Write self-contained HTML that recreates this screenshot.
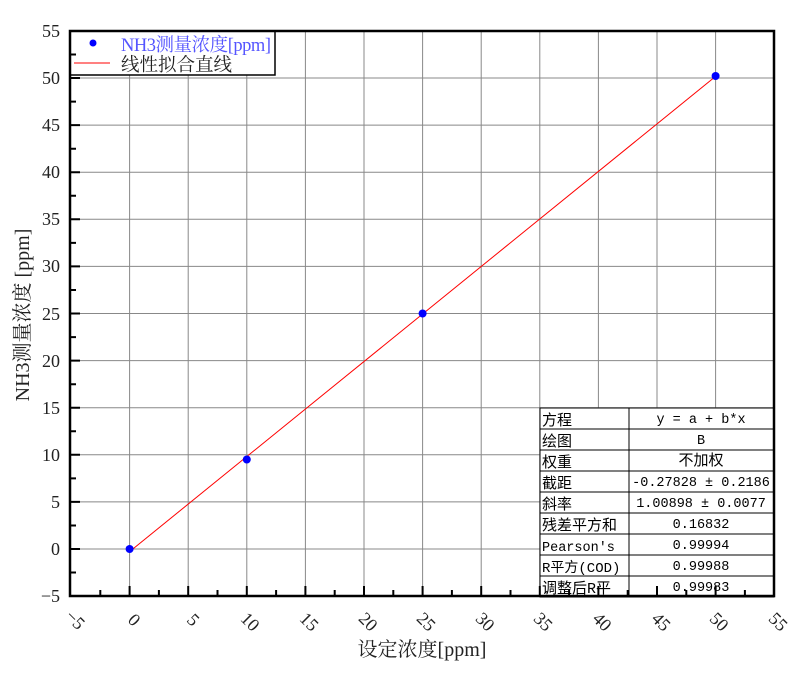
<!DOCTYPE html>
<html><head><meta charset="utf-8"><style>body{margin:0;background:#fff}svg{display:block}</style></head><body>
<svg width="808" height="681" xmlns="http://www.w3.org/2000/svg" font-family="'Liberation Serif','Noto Serif CJK SC',serif">
<rect width="808" height="681" fill="#fff"/>
<g stroke="#888" stroke-width="1">
<line x1="129.6" y1="31" x2="129.6" y2="596"/><line x1="188.2" y1="31" x2="188.2" y2="596"/><line x1="246.8" y1="31" x2="246.8" y2="596"/><line x1="305.4" y1="31" x2="305.4" y2="596"/><line x1="364" y1="31" x2="364" y2="596"/><line x1="422.6" y1="31" x2="422.6" y2="596"/><line x1="481.2" y1="31" x2="481.2" y2="596"/><line x1="539.8" y1="31" x2="539.8" y2="596"/><line x1="598.4" y1="31" x2="598.4" y2="596"/><line x1="657" y1="31" x2="657" y2="596"/><line x1="715.6" y1="31" x2="715.6" y2="596"/>
<line x1="70" y1="549" x2="774" y2="549"/><line x1="70" y1="501.9" x2="774" y2="501.9"/><line x1="70" y1="454.8" x2="774" y2="454.8"/><line x1="70" y1="407.7" x2="774" y2="407.7"/><line x1="70" y1="360.6" x2="774" y2="360.6"/><line x1="70" y1="313.5" x2="774" y2="313.5"/><line x1="70" y1="266.4" x2="774" y2="266.4"/><line x1="70" y1="219.3" x2="774" y2="219.3"/><line x1="70" y1="172.2" x2="774" y2="172.2"/><line x1="70" y1="125.1" x2="774" y2="125.1"/><line x1="70" y1="78" x2="774" y2="78"/>
</g>
<line x1="129.6" y1="551.6" x2="715.6" y2="76.4" stroke="#f00" stroke-width="1"/>
<g fill="#00f"><circle cx="129.6" cy="549" r="4"/><circle cx="246.8" cy="459.5" r="4"/><circle cx="422.6" cy="313.5" r="4"/><circle cx="715.6" cy="76" r="4"/></g>
<!-- table -->
<rect x="540" y="408" width="234" height="189" fill="#fff" stroke="#000"/>
<g stroke="#000" stroke-width="1">
<line x1="629" y1="408" x2="629" y2="597"/>
<line x1="540" y1="429" x2="774" y2="429"/><line x1="540" y1="450" x2="774" y2="450"/><line x1="540" y1="471" x2="774" y2="471"/><line x1="540" y1="492" x2="774" y2="492"/><line x1="540" y1="513" x2="774" y2="513"/><line x1="540" y1="534" x2="774" y2="534"/><line x1="540" y1="555" x2="774" y2="555"/><line x1="540" y1="576" x2="774" y2="576"/>
</g>
<g font-family="'Liberation Mono','Noto Sans CJK SC',monospace" font-size="15">
<text x="542" y="425">方程</text><text x="542" y="446">绘图</text><text x="542" y="467">权重</text><text x="542" y="488">截距</text><text x="542" y="509">斜率</text><text x="542" y="530">残差平方和</text><text x="542" y="551" font-size="13.5">Pearson's</text><text x="542" y="572" font-size="14">R平方(COD)</text><text x="542" y="593">调整后R平</text>
<g text-anchor="middle" font-size="13.5"><text x="701" y="423">y = a + b*x</text><text x="701" y="444">B</text><text x="701" y="465" font-size="15">不加权</text><text x="701" y="486">-0.27828 ± 0.2186</text><text x="701" y="507">1.00898 ± 0.0077</text><text x="701" y="528">0.16832</text><text x="701" y="549">0.99994</text><text x="701" y="570">0.99988</text><text x="701" y="591">0.99983</text></g>
</g>
<!-- legend -->
<rect x="70" y="31" width="205" height="44" fill="#fff" stroke="#000" stroke-width="1.5"/>
<circle cx="93" cy="43" r="3.5" fill="#00f"/>
<line x1="74" y1="63" x2="110" y2="63" stroke="#f00"/>
<text x="121" y="51" font-size="18.5" fill="#55f" textLength="150">NH3测量浓度[ppm]</text>
<text x="121" y="71" font-size="18.5" fill="#222">线性拟合直线</text>
<!-- frame -->
<rect x="70" y="31" width="704" height="565" fill="none" stroke="#000" stroke-width="2.5"/>
<g stroke="#000" stroke-width="2">
<path d="M129.6 596v-10M188.2 596v-10M246.8 596v-10M305.4 596v-10M364 596v-10M422.6 596v-10M481.2 596v-10M539.8 596v-10M598.4 596v-10M657 596v-10M715.6 596v-10"/>
<path d="M100.3 596v-6M158.9 596v-6M217.5 596v-6M276.1 596v-6M334.7 596v-6M393.3 596v-6M451.9 596v-6M510.5 596v-6M569.1 596v-6M627.7 596v-6M686.3 596v-6M744.9 596v-6"/>
<path d="M70 549h10M70 501.9h10M70 454.8h10M70 407.7h10M70 360.6h10M70 313.5h10M70 266.4h10M70 219.3h10M70 172.2h10M70 125.1h10M70 78h10"/>
<path d="M70 572.5h6M70 525.5h6M70 478.4h6M70 431.3h6M70 384.2h6M70 337.1h6M70 290h6M70 242.9h6M70 195.8h6M70 148.7h6M70 101.6h6M70 54.5h6"/>
</g>
<g font-size="18" fill="#222" text-anchor="end">
<text x="60" y="602">−5</text><text x="60" y="555">0</text><text x="60" y="508">5</text><text x="60" y="461">10</text><text x="60" y="414">15</text><text x="60" y="367">20</text><text x="60" y="320">25</text><text x="60" y="272">30</text><text x="60" y="225">35</text><text x="60" y="178">40</text><text x="60" y="131">45</text><text x="60" y="84">50</text><text x="60" y="37">55</text>
</g>
<g font-size="18" fill="#222" text-anchor="middle">
<text transform="translate(71,624) rotate(45)">−5</text>
<text transform="translate(130,624) rotate(45)">0</text>
<text transform="translate(189,624) rotate(45)">5</text>
<text transform="translate(246,626) rotate(45)">10</text>
<text transform="translate(305,626) rotate(45)">15</text>
<text transform="translate(364,626) rotate(45)">20</text>
<text transform="translate(422,626) rotate(45)">25</text>
<text transform="translate(481,626) rotate(45)">30</text>
<text transform="translate(539,626) rotate(45)">35</text>
<text transform="translate(598,626) rotate(45)">40</text>
<text transform="translate(657,626) rotate(45)">45</text>
<text transform="translate(715,626) rotate(45)">50</text>
<text transform="translate(774,626) rotate(45)">55</text>
</g>
<text x="422" y="656" font-size="20" fill="#222" text-anchor="middle">设定浓度[ppm]</text>
<text transform="translate(29,315) rotate(-90)" font-size="20" fill="#222" text-anchor="middle">NH3测量浓度 [ppm]</text>
</svg>
</body></html>
